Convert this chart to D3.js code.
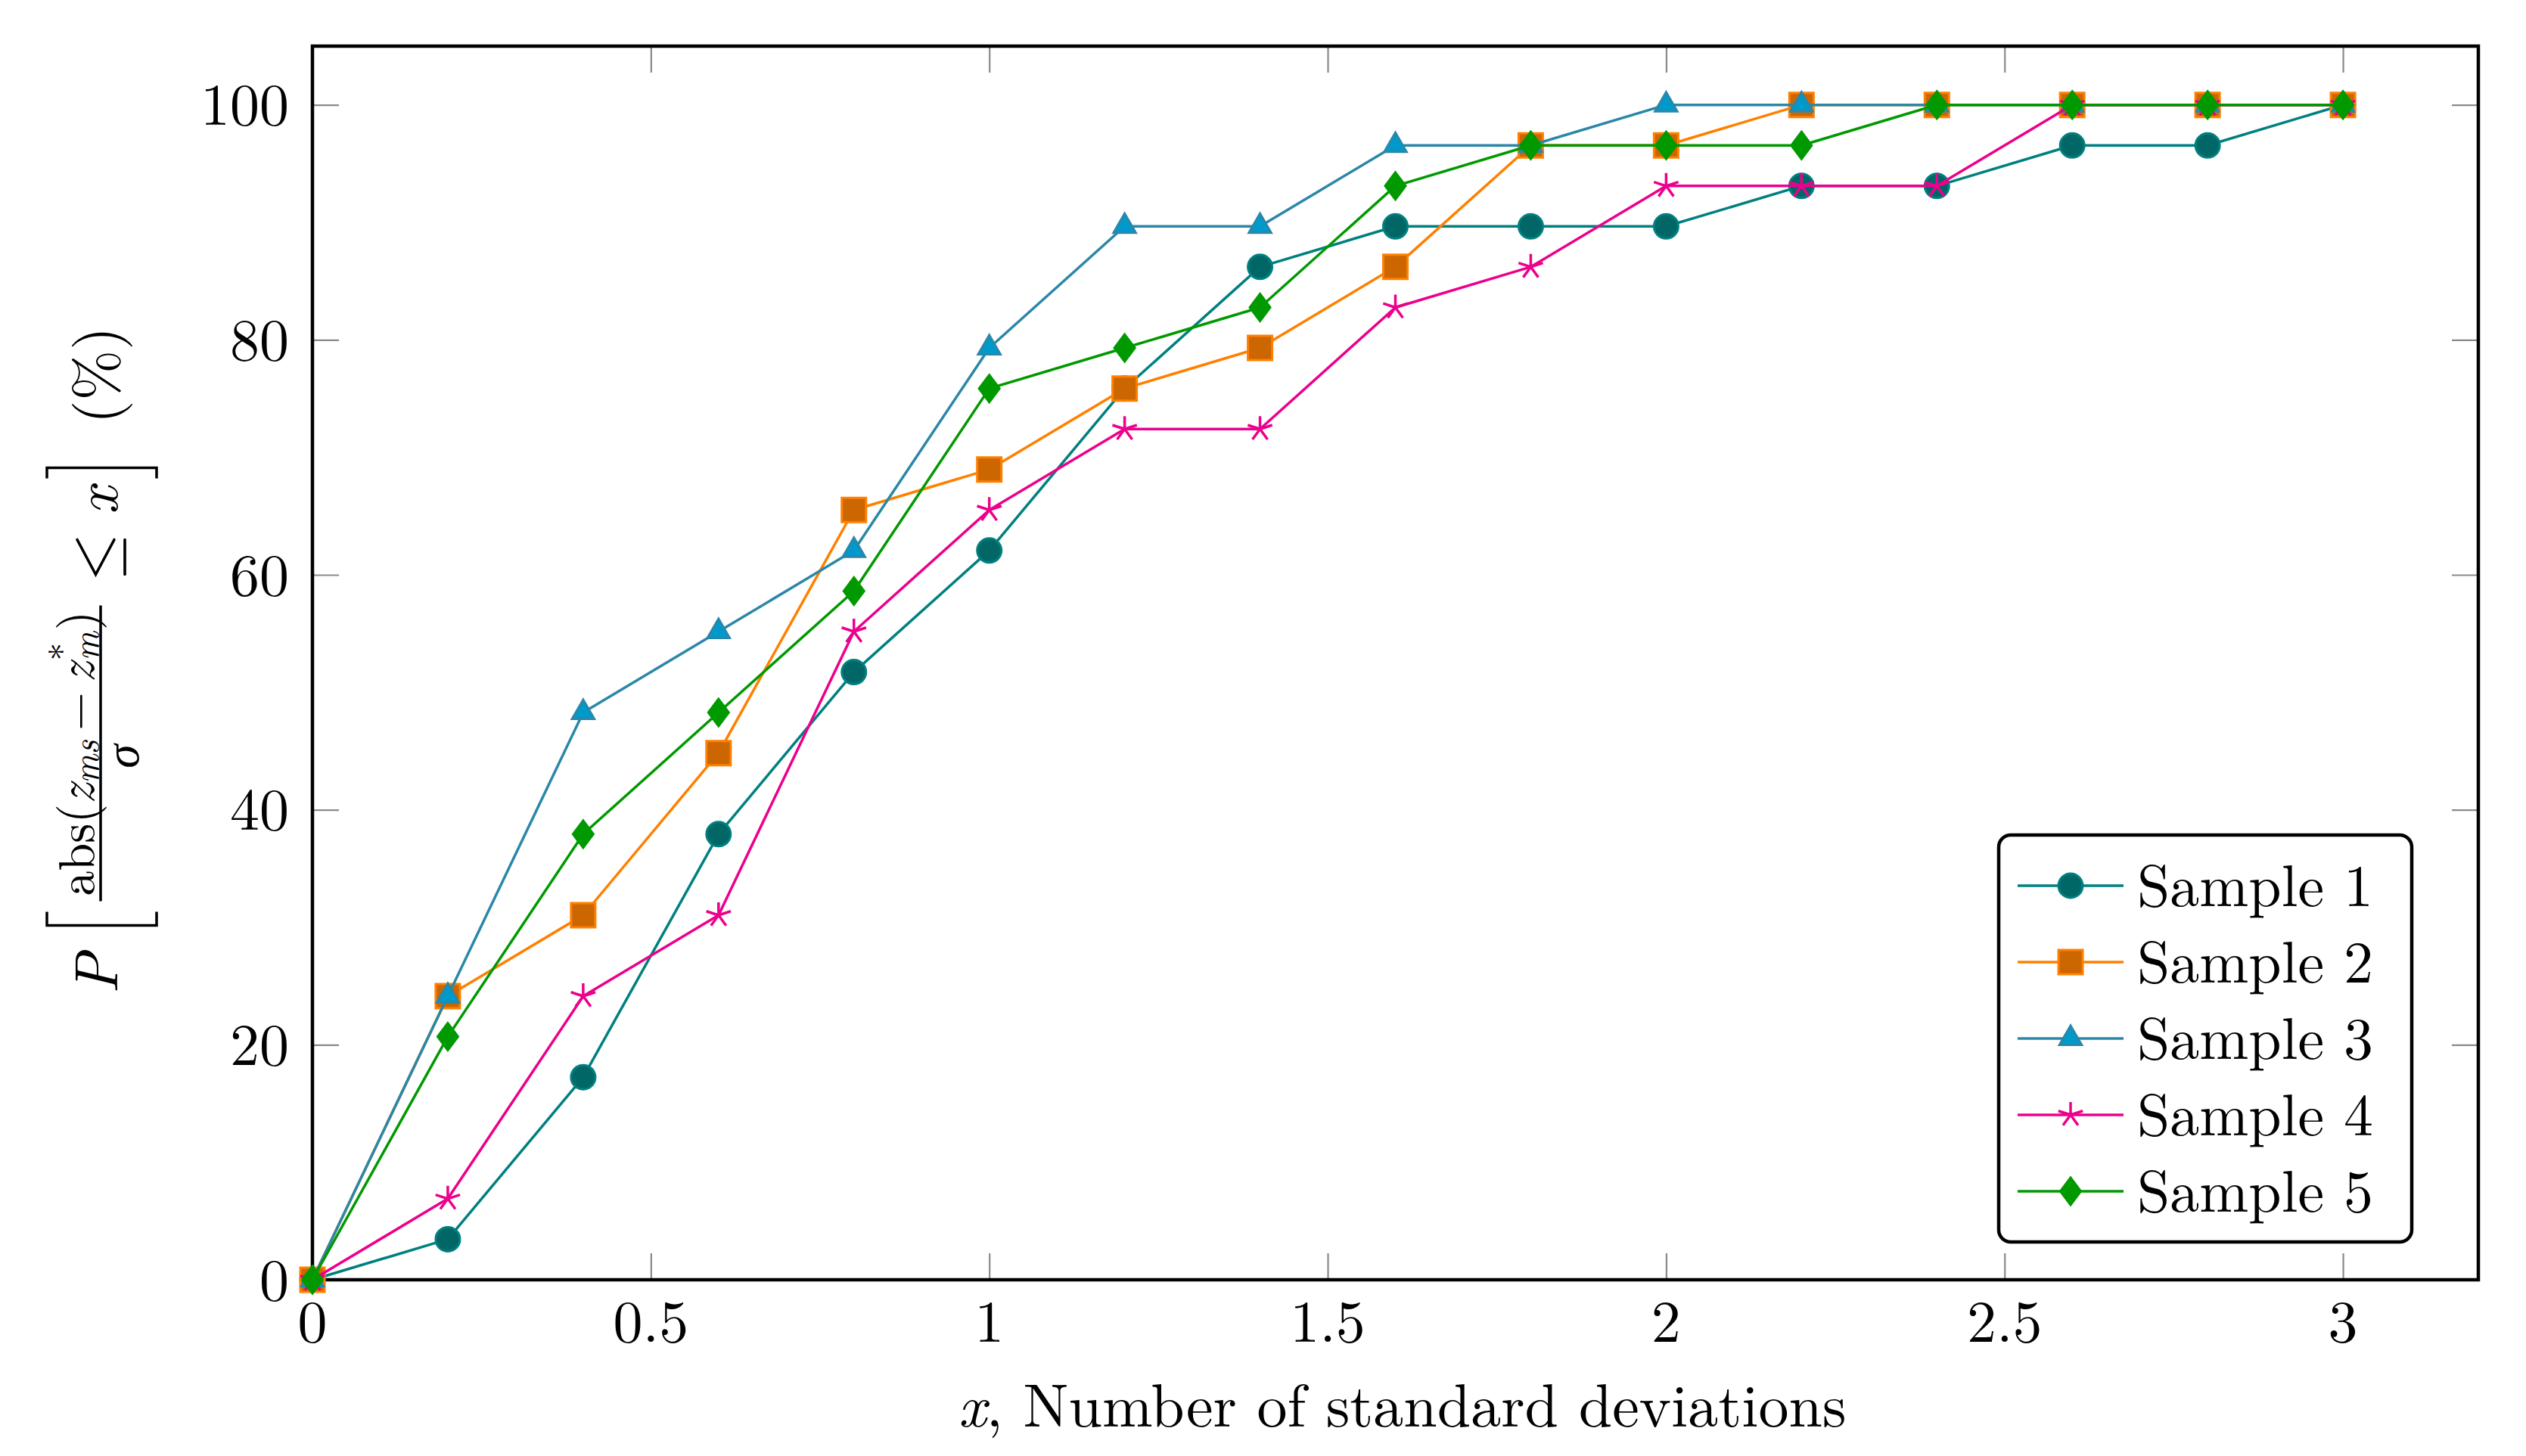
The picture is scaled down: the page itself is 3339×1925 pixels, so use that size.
<!DOCTYPE html>
<html lang="en">
<head>
<meta charset="UTF-8">
<title>P[abs(z_ms - z*_m)/sigma <= x] vs number of standard deviations</title>
<script src="https://d3js.org/d3.v7.min.js"></script>
<style>
    body { margin: 0; background: #fff; }
    svg { display: block; }
    text { font-family: "Latin Modern Roman", "CMU Serif", "Liberation Serif", serif; fill: #000; }
</style>
</head>
<body>
<div id="chart"></div>
<script>
    // values (29 cases per sample -> steps of 3.45 %)
    const xValues = [0, 0.2, 0.4, 0.6, 0.8, 1.0, 1.2, 1.4, 1.6, 1.8, 2.0, 2.2, 2.4, 2.6, 2.8, 3.0];
    const sample1 = [0, 3.45, 17.24, 37.93, 51.72, 62.07, 75.86, 86.21, 89.66, 89.66, 89.66, 93.10, 93.10, 96.55, 96.55, 100];
    const sample2 = [0, 24.14, 31.03, 44.83, 65.52, 68.97, 75.86, 79.31, 86.21, 96.55, 96.55, 100, 100, 100, 100, 100];
    const sample3 = [0, 24.14, 48.28, 55.17, 62.07, 79.31, 89.66, 89.66, 96.55, 96.55, 100, 100, 100, 100, 100, 100];
    const sample4 = [0, 6.90, 24.14, 31.03, 55.17, 65.52, 72.41, 72.41, 82.76, 86.21, 93.10, 93.10, 93.10, 100, 100, 100];
    const sample5 = [0, 20.69, 37.93, 48.28, 58.62, 75.86, 79.31, 82.76, 93.10, 96.55, 96.55, 96.55, 100, 100, 100, 100];
    const seriesNames = ["Sample 1", "Sample 2", "Sample 3", "Sample 4", "Sample 5"];
    const xTicks = [0, 0.5, 1, 1.5, 2, 2.5, 3];
    const yTicks = [0, 20, 40, 60, 80, 100];

    const seriesValues = [sample1, sample2, sample3, sample4, sample5];

    // look of each series (pgfplots style)
    const seriesStyles = [
        { line: "#008080", stroke: "#008080", fill: "#006666", mark: "circle" },
        { line: "#ff8000", stroke: "#ff8000", fill: "#cc6600", mark: "square" },
        { line: "#2b87a8", stroke: "#2b87a8", fill: "#0099cc", mark: "triangle" },
        { line: "#ec008c", stroke: "#ec008c", fill: "none", mark: "star" },
        { line: "#009900", stroke: "#009900", fill: "#009900", mark: "diamond" }
    ];

    const width = 3339;
    const height = 1925;
    const margin = { top: 61, right: 63, bottom: 233, left: 413 };
    const fontSize = 78;

    const svg = d3.select("#chart")
        .append("svg")
        .attr("width", width)
        .attr("height", height);

    const x = d3.scaleLinear().domain([0, 3.2]).range([margin.left, width - margin.right]);
    const y = d3.scaleLinear().domain([0, 105]).range([height - margin.bottom, margin.top]);

    const tickLen = 35;
    const tickColor = "#8a8a8a";

    // inner ticks on all four sides
    const axes = svg.append("g");
    axes.append("g")
        .attr("transform", `translate(0,${y(0)})`)
        .call(d3.axisBottom(x).tickValues(xTicks).tickSizeInner(-tickLen).tickSizeOuter(0).tickFormat(""));
    axes.append("g")
        .attr("transform", `translate(0,${y(105)})`)
        .call(d3.axisTop(x).tickValues(xTicks).tickSizeInner(-tickLen).tickSizeOuter(0).tickFormat(""));
    axes.append("g")
        .attr("transform", `translate(${x(0)},0)`)
        .call(d3.axisLeft(y).tickValues(yTicks).tickSizeInner(-tickLen).tickSizeOuter(0).tickFormat(""));
    axes.append("g")
        .attr("transform", `translate(${x(3.2)},0)`)
        .call(d3.axisRight(y).tickValues(yTicks).tickSizeInner(-tickLen).tickSizeOuter(0).tickFormat(""));
    axes.selectAll(".domain").remove();
    axes.selectAll(".tick line").attr("stroke", tickColor).attr("stroke-width", 2.2);

    // tick labels
    svg.append("g").selectAll("text")
        .data(xTicks)
        .join("text")
        .attr("x", d => x(d))
        .attr("y", y(0) + 82)
        .attr("text-anchor", "middle")
        .attr("font-size", fontSize)
        .text(d => d);

    svg.append("g").selectAll("text")
        .data(yTicks)
        .join("text")
        .attr("x", x(0) - 31)
        .attr("y", d => y(d))
        .attr("dy", "0.34em")
        .attr("text-anchor", "end")
        .attr("font-size", fontSize)
        .text(d => d);

    // frame
    svg.append("rect")
        .attr("x", x(0))
        .attr("y", y(105))
        .attr("width", x(3.2) - x(0))
        .attr("height", y(0) - y(105))
        .attr("fill", "none")
        .attr("stroke", "#000")
        .attr("stroke-width", 4.5);

    // marker shapes
    function markPath(kind) {
        if (kind === "triangle") {
            const r = 17;
            return `M0,${-r}L${r * 0.866},${r / 2}L${-r * 0.866},${r / 2}Z`;
        }
        if (kind === "diamond") {
            return "M0,-18L13.5,0L0,18L-13.5,0Z";
        }
        if (kind === "star") {
            const r = 17;
            let p = "";
            for (let k = 0; k < 5; k++) {
                const a = -Math.PI / 2 + k * 2 * Math.PI / 5;
                p += `M0,0L${r * Math.cos(a)},${r * Math.sin(a)}`;
            }
            return p;
        }
        if (kind === "square") {
            return "M-16,-16H16V16H-16Z";
        }
        return d3.symbol(d3.symbolCircle, Math.PI * 16 * 16)();
    }

    function drawMark(g, style, px, py) {
        g.append("path")
            .attr("transform", `translate(${px},${py})`)
            .attr("d", markPath(style.mark))
            .attr("fill", style.fill)
            .attr("stroke", style.stroke)
            .attr("stroke-width", style.mark === "star" ? 3.5 : 3)
            .attr("stroke-linejoin", "miter");
    }

    const line = d3.line()
        .x(d => x(d[0]))
        .y(d => y(d[1]));

    seriesValues.forEach((vals, i) => {
        const style = seriesStyles[i];
        const pts = xValues.map((xv, j) => [xv, vals[j]]);
        const g = svg.append("g");
        g.append("path")
            .datum(pts)
            .attr("d", line)
            .attr("fill", "none")
            .attr("stroke", style.line)
            .attr("stroke-width", 3.5)
            .attr("stroke-linejoin", "round");
        pts.forEach(p => drawMark(g, style, x(p[0]), y(p[1])));
    });

    // legend
    const legend = svg.append("g");
    legend.append("rect")
        .attr("x", 2642)
        .attr("y", 1104)
        .attr("width", 546)
        .attr("height", 538)
        .attr("rx", 16)
        .attr("fill", "#fff")
        .attr("stroke", "#000")
        .attr("stroke-width", 4.5);

    seriesNames.forEach((name, i) => {
        const cy = 1171 + i * 101;
        const style = seriesStyles[i];
        legend.append("line")
            .attr("x1", 2667).attr("x2", 2807)
            .attr("y1", cy).attr("y2", cy)
            .attr("stroke", style.line)
            .attr("stroke-width", 3.5);
        drawMark(legend, style, 2737, cy);
        legend.append("text")
            .attr("x", 2825)
            .attr("y", cy + 27)
            .attr("font-size", fontSize)
            .text(name);
    });

    // x label
    const xl = svg.append("text")
        .attr("x", (x(0) + x(3.2)) / 2 + 9)
        .attr("y", 1886)
        .attr("text-anchor", "middle")
        .attr("font-size", 80);
    xl.append("tspan").attr("font-style", "italic").text("x");
    xl.append("tspan").text(", Number of standard deviations");

    // y label: P [ abs(z_ms - z*_m) / sigma <= x ] (%), written rotated
    const yl = svg.append("g")
        .attr("transform", `translate(155,${(y(0) + y(105)) / 2}) rotate(-90)`);

    function piece(parent, txt, u, v, size, italic, anchor) {
        return parent.append("text")
            .attr("x", u)
            .attr("y", v)
            .attr("font-size", size)
            .attr("font-style", italic ? "italic" : "normal")
            .attr("text-anchor", anchor || "start")
            .text(txt);
    }

    piece(yl, "P", -438, 0, 80, true);
    yl.append("path")
        .attr("d", "M-329,-93H-347V52H-329")
        .attr("fill", "none").attr("stroke", "#000").attr("stroke-width", 3.5);

    // numerator, laid out piece by piece then fitted to the fraction bar
    const barLeft = -315, barRight = 76;
    const num = yl.append("g");
    const n = 64, s = 45, numBase = -31;
    let u = 0;
    function flow(txt, size, italic, dv, gapAfter) {
        const t = piece(num, txt, u, numBase + dv, size, italic);
        const w = t.node().getComputedTextLength();
        u += w + (gapAfter || 0);
        return w;
    }
    flow("abs(", n, false, 0);
    flow("z", n, true, 0);
    flow("ms", s, true, 6, 12);
    flow("\u2212", n, false, 0, 12);
    flow("z", n, true, 0, 2);
    const uStar = u;
    const wStar = flow("*", s, false, -24);
    u = uStar;
    const wM = flow("m", s, true, 6);
    u = uStar + Math.max(wStar, wM) + 2;
    flow(")", n, false, 0);
    const fitScale = Math.min(1.15, (barRight - barLeft - 14) / u);
    const numW = u * fitScale;
    const cu = (barLeft + barRight) / 2;
    num.attr("transform", `translate(${cu - numW / 2},${numBase * (1 - fitScale)}) scale(${fitScale})`);

    yl.append("line")
        .attr("x1", barLeft).attr("x2", barRight)
        .attr("y1", -22).attr("y2", -22)
        .attr("stroke", "#000").attr("stroke-width", 3.5);
    piece(yl, "\u03c3", cu - 4, 28, 64, true, "middle");
    // "less or equal" sign drawn as strokes (the text font renders it too small)
    yl.append("path")
        .attr("d", "M163,-53L117,-28.5L163,-4M117,10H163")
        .attr("fill", "none").attr("stroke", "#000").attr("stroke-width", 3.6)
        .attr("stroke-linecap", "round").attr("stroke-linejoin", "miter");
    piece(yl, "x", 196, 0, 80, true);
    yl.append("path")
        .attr("d", "M244,-93H258V52H244")
        .attr("fill", "none").attr("stroke", "#000").attr("stroke-width", 3.5);
    piece(yl, "(%)", 316, 0, 80, false);
</script>
</body>
</html>
